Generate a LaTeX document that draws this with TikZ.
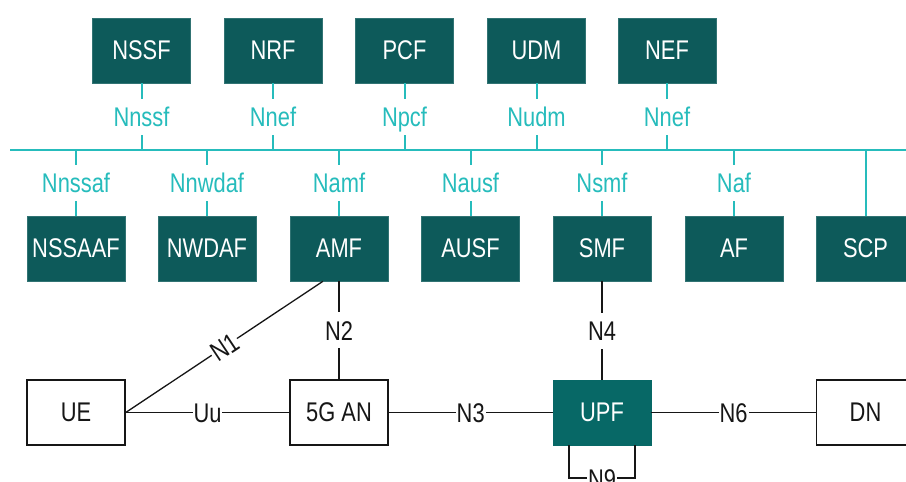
\documentclass[tikz,border=0pt]{standalone}
\usepackage{fontspec}
\setmainfont{Liberation Sans}[FakeStretch=0.81]
\usetikzlibrary{calc}
\definecolor{nfbox}{HTML}{0D5A5A}
\definecolor{upfbox}{HTML}{076866}
\definecolor{sbi}{HTML}{26BCBC}
\definecolor{ink}{HTML}{161616}
\tikzset{
  lbl/.style={font=\fontsize{27}{30}\selectfont},
  nf/.style={lbl, rectangle, fill=nfbox, draw=nfbox!85!white, line width=0.6pt,
    minimum width=98pt, minimum height=65pt, inner sep=0pt, text=white},
  upfstyle/.style={nf, fill=upfbox, draw=upfbox},
  ext/.style={lbl, rectangle, fill=white, draw=ink, line width=1.4pt,
    minimum width=98pt, minimum height=65pt, inner sep=0pt, text=ink},
  svc/.style={lbl, text=sbi, fill=white, inner xsep=1pt, inner ysep=8pt,
    text height=20pt, text depth=0pt},
  ref/.style={lbl, text=ink, fill=white, inner xsep=1pt, inner ysep=8pt,
    text height=20pt, text depth=0pt},
  bus/.style={draw=sbi, line width=2pt},
  link/.style={draw=ink, line width=1.3pt}
}
\begin{document}
\begin{tikzpicture}[x=1pt,y=-1pt]
\useasboundingbox (0,0) rectangle (906,482);
\clip (0,0) rectangle (906,482);

% bus
\coordinate (busL) at (10,150);
\coordinate (busR) at (930,150);
\draw[bus] (busL) -- (busR);

% top row
\node[nf] (nssf) at (141.5,50.5) {NSSF};
\node[nf] (nrf)  at (273,50.5)   {NRF};
\node[nf] (pcf)  at (404.5,50.5) {PCF};
\node[nf] (udm)  at (536.5,50.5) {UDM};
\node[nf] (nef)  at (667,50.5)   {NEF};

\draw[bus] (nssf) -- node[svc] {Nnssf} (nssf |- busL);
\draw[bus] (nrf)  -- node[svc] {Nnef}  (nrf |- busL);
\draw[bus] (pcf)  -- node[svc] {Npcf}  (pcf |- busL);
\draw[bus] (udm)  -- node[svc] {Nudm}  (udm |- busL);
\draw[bus] (nef)  -- node[svc] {Nnef}  (nef |- busL);

% second row
\node[nf] (nssaaf) at (76,248.5)    {NSSAAF};
\node[nf] (nwdaf)  at (207,248.5)   {NWDAF};
\node[nf] (amf)    at (339,248.5)   {AMF};
\node[nf] (ausf)   at (470.5,248.5) {AUSF};
\node[nf] (smf)    at (602,248.5)   {SMF};
\node[nf] (af)     at (734,248.5)   {AF};
\node[nf] (scp)    at (865.5,248.5) {SCP};

\draw[bus] (nssaaf |- busL) -- node[svc] {Nnssaf} (nssaaf);
\draw[bus] (nwdaf |- busL)  -- node[svc] {Nnwdaf} (nwdaf);
\draw[bus] (amf |- busL)    -- node[svc] {Namf}   (amf);
\draw[bus] (ausf |- busL)   -- node[svc] {Nausf}  (ausf);
\draw[bus] (smf |- busL)    -- node[svc] {Nsmf}   (smf);
\draw[bus] (af |- busL)     -- node[svc] {Naf}    (af);
\draw[bus] (scp |- busL)    -- (scp);

% bottom row
\node[ext] (ue)   at (76,412.5)    {UE};
\node[ext] (an)   at (339,412.5)   {5G AN};
\node[upfstyle] (upf) at (602,412.5) {UPF};
\node[ext] (dn)   at (865.5,412.5) {DN};

\coordinate (amfN1) at ($(amf.south west)!0.337!(amf.south east)$);
\draw[link] (ue.east) -- node[ref, sloped] {N1} (amfN1);
\draw[link] (amf) -- node[ref] {N2} (an);
\draw[link] (smf) -- node[ref] {N4} (upf);
\draw[link] (ue) -- node[ref] {Uu} (an);
\draw[link] (an) -- node[ref] {N3} (upf);
\draw[link] (upf) -- node[ref] {N6} (dn);

\coordinate (n9a) at (569,478);
\coordinate (n9b) at (635,478);
\draw[link] (upf.south -| n9a) -- (n9a) -- node[ref] {N9} (n9b) -- (upf.south -| n9b);
\end{tikzpicture}
\end{document}
